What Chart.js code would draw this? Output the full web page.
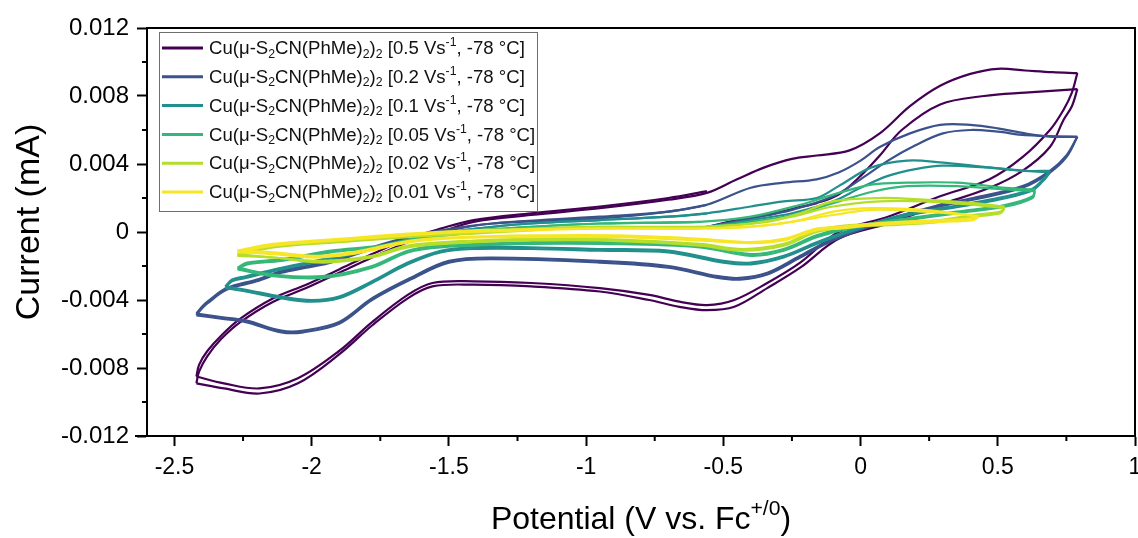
<!DOCTYPE html>
<html><head><meta charset="utf-8">
<script src="https://cdn.jsdelivr.net/npm/chart.js@4.4.1/dist/chart.umd.min.js"></script>
<style>html,body{margin:0;padding:0;background:#fff;}#wrap{width:1138px;height:538px;}</style>
</head><body><div id="wrap"><canvas id="c" width="1138" height="538"></canvas></div>
<script>
// ---------- tick labels ----------
const xTickValues = [-2.5, -2, -1.5, -1, -0.5, 0, 0.5, 1];
const xMinorTicks = [-2.25, -1.75, -1.25, -0.75, -0.25, 0.25, 0.75];
const yTickValues = [-0.012, -0.008, -0.004, 0, 0.004, 0.008, 0.012];
const yMinorTicks = [-0.010, -0.006, -0.002, 0.002, 0.006, 0.010];
const scanRates = ['0.5', '0.2', '0.1', '0.05', '0.02', '0.01'];
const seriesColors = ['#440154', '#3b528b', '#21908d', '#35b779', '#b5de2b', '#f6e626'];

// ---------- 0.5 V/s ----------
const E_start_050 = [-0.56, -0.45, -0.34, -0.24, -0.16, -0.08, 0.0, 0.07, 0.15, 0.29, 0.45, 0.6, 0.79];
const I_start_050 = [0.0003, 0.0007, 0.0010, 0.0014, 0.0017, 0.0022, 0.0033, 0.0045, 0.0060, 0.0075, 0.0080, 0.0082, 0.0084];
const E_cath_050 = [0.79, 0.77, 0.74, 0.69, 0.59, 0.47, 0.29, 0.1, -0.08, -0.22, -0.34, -0.46, -0.56, -0.66, -0.77, -0.95, -1.2, -1.41, -1.56, -1.65, -1.78, -1.9, -2.05, -2.19, -2.32, -2.42];
const I_cath1_050 = [0.0084, 0.0074, 0.0066, 0.0050, 0.0036, 0.0026, 0.0016, 0.0005, -0.0004, -0.0021, -0.0033, -0.0044, -0.0046, -0.0044, -0.0040, -0.0035, -0.0032, -0.0031, -0.0032, -0.0039, -0.0055, -0.0072, -0.0089, -0.0095, -0.0092, -0.0089];
const I_cath2_050 = [0.00935, 0.0082, 0.0072, 0.0060, 0.0044, 0.0031, 0.0021, 0.0009, 0.0000, -0.0018, -0.0030, -0.0040, -0.0043, -0.0041, -0.0037, -0.0033, -0.0030, -0.0029, -0.0030, -0.0037, -0.0053, -0.0070, -0.0086, -0.0092, -0.0089, -0.0085];
const E_anod_050 = [-2.42, -2.41, -2.38, -2.33, -2.26, -2.14, -2.02, -1.9, -1.78, -1.65, -1.53, -1.41, -1.2, -0.95, -0.7, -0.56, -0.45, -0.35, -0.25, -0.16, -0.04, 0.07, 0.18, 0.29, 0.4, 0.5, 0.6, 0.7, 0.79];
const I_anod1_050 = [-0.0089, -0.0082, -0.0073, -0.0063, -0.0053, -0.0041, -0.0033, -0.0024, -0.0015, -0.0006, 0.0000, 0.0006, 0.0010, 0.0014, 0.0019, 0.0023, 0.0031, 0.0038, 0.0043, 0.0045, 0.0048, 0.0058, 0.0074, 0.0086, 0.0093, 0.0096, 0.0095, 0.0094, 0.00935];
const I_anod2_050 = [-0.0085, -0.0078, -0.0070, -0.0061, -0.0051, -0.0039, -0.0031, -0.0022, -0.0013, -0.0004, 0.0002, 0.0007, 0.0011, 0.0015, 0.0020, 0.0024];

// ---------- 0.2 V/s ----------
const E_start_020 = [-0.56, -0.4, -0.25, -0.1, 0.0, 0.1, 0.2, 0.3, 0.4, 0.5, 0.6, 0.79];
const I_start_020 = [0.0003, 0.0008, 0.0013, 0.0021, 0.0031, 0.0042, 0.0051, 0.0058, 0.0060, 0.0059, 0.0057, 0.0056];
const E_cath_020 = [0.79, 0.75, 0.69, 0.59, 0.41, 0.29, 0.07, -0.1, -0.22, -0.34, -0.44, -0.52, -0.7, -0.95, -1.34, -1.5, -1.64, -1.78, -1.9, -2.03, -2.11, -2.24, -2.33, -2.42];
const I_cath1_020 = [0.0056, 0.0044, 0.0035, 0.0026, 0.0019, 0.0015, 0.0005, -0.0005, -0.0015, -0.0025, -0.0028, -0.0027, -0.0021, -0.0018, -0.0016, -0.0018, -0.0028, -0.0040, -0.0054, -0.0059, -0.0059, -0.0053, -0.0051, -0.0049];
const I_cath2_020 = [0.0056, 0.0045, 0.0036, 0.0027, 0.0020, 0.0016, 0.0006, -0.0004, -0.0014, -0.0024, -0.0027, -0.0026, -0.0020, -0.0017, -0.0015, -0.0017, -0.0027, -0.0039, -0.0053, -0.0058, -0.0058, -0.0052, -0.0050, -0.0048];
const E_anod_020 = [-2.42, -2.40, -2.38, -2.31, -2.2, -2.11, -2.02, -1.93, -1.78, -1.65, -1.53, -1.34, -0.95, -0.7, -0.56, -0.4, -0.28, -0.16, -0.08, 0.0, 0.07, 0.18, 0.29, 0.4, 0.5, 0.6, 0.7, 0.79];
const I_anod1_020 = [-0.0049, -0.0045, -0.0042, -0.0034, -0.0029, -0.0024, -0.0021, -0.0018, -0.0010, -0.0004, 0.0000, 0.0005, 0.0008, 0.0012, 0.0016, 0.0026, 0.0029, 0.0031, 0.0035, 0.0042, 0.0050, 0.0058, 0.0063, 0.0063, 0.0061, 0.0058, 0.0056, 0.0056];
const I_anod2_020 = [-0.0048, -0.0044, -0.0041, -0.0033, -0.0028, -0.0023, -0.0020, -0.0017, -0.0009, -0.0003, 0.0001, 0.0005, 0.0009, 0.0012, 0.0016];

// ---------- 0.1 V/s ----------
const E_start_010 = [-0.56, -0.4, -0.25, -0.1, 0.0, 0.1, 0.2, 0.3, 0.45, 0.6, 0.69];
const I_start_010 = [0.0003, 0.0007, 0.0011, 0.0018, 0.0026, 0.0033, 0.0037, 0.0039, 0.0038, 0.0036, 0.0035];
const E_cath_010 = [0.69, 0.665, 0.62, 0.47, 0.29, 0.15, 0.04, -0.04, -0.16, -0.28, -0.4, -0.5, -0.7, -0.95, -1.2, -1.41, -1.53, -1.65, -1.78, -1.9, -2.0, -2.11, -2.24, -2.315];
const I_cath1_010 = [0.0035, 0.0030, 0.0024, 0.0018, 0.0013, 0.0009, 0.0004, 0.0000, -0.0007, -0.0015, -0.0019, -0.0018, -0.0012, -0.0011, -0.0010, -0.0010, -0.0012, -0.0019, -0.0030, -0.0039, -0.0041, -0.0039, -0.0035, -0.0033];
const I_cath2_010 = [0.0036, 0.0031, 0.0025, 0.0019, 0.0014, 0.0010, 0.0005, 0.0001, -0.0006, -0.0014, -0.0018, -0.0017, -0.0011, -0.0010, -0.0009, -0.0009, -0.0011, -0.0018, -0.0029, -0.0038, -0.0040, -0.0038, -0.0034, -0.0032];
const E_anod_010 = [-2.315, -2.29, -2.24, -2.11, -1.93, -1.75, -1.6, -1.4, -1.2, -0.95, -0.7, -0.56, -0.4, -0.28, -0.16, -0.08, 0.04, 0.17, 0.29, 0.47, 0.6, 0.69];
const I_anod1_010 = [-0.0033, -0.0029, -0.0027, -0.0022, -0.0016, -0.0009, -0.0003, 0.0002, 0.0005, 0.0007, 0.0009, 0.0011, 0.0015, 0.0018, 0.0020, 0.0027, 0.0038, 0.0042, 0.0041, 0.0038, 0.0036, 0.0036];
const I_anod2_010 = [-0.0032, -0.0028, -0.0026, -0.0021, -0.0015, -0.0008, -0.0003, 0.0002, 0.0005, 0.0007, 0.0009, 0.0011];

// ---------- 0.05 V/s ----------
const E_start_005 = [-0.56, -0.4, -0.25, -0.1, 0.05, 0.17, 0.35, 0.53, 0.635];
const I_start_005 = [0.0003, 0.0006, 0.0010, 0.0017, 0.0024, 0.0027, 0.0027, 0.0025, 0.0024];
const E_cath_005 = [0.635, 0.627, 0.53, 0.35, 0.17, -0.04, -0.16, -0.28, -0.4, -0.586, -0.95, -1.2, -1.53, -1.65, -1.78, -1.96, -2.14, -2.27];
const I_cath1_005 = [0.0024, 0.0020, 0.0015, 0.0011, 0.0007, 0.0002, -0.0003, -0.0011, -0.0014, -0.0009, -0.0007, -0.0007, -0.0009, -0.0012, -0.0021, -0.0027, -0.0026, -0.0022];
const I_cath2_005 = [0.0025, 0.0021, 0.0016, 0.0012, 0.0008, 0.0003, -0.0002, -0.0010, -0.0013, -0.0008, -0.0006, -0.0006, -0.0008, -0.0011, -0.0020, -0.0026, -0.0025, -0.0021];
const E_anod_005 = [-2.27, -2.235, -2.11, -1.93, -1.75, -1.6, -1.4, -1.2, -0.95, -0.586, -0.4, -0.22, -0.1, 0.045, 0.17, 0.35, 0.53, 0.635];
const I_anod1_005 = [-0.0022, -0.0019, -0.0017, -0.0012, -0.0009, -0.0004, 0.0000, 0.0003, 0.0005, 0.0006, 0.0009, 0.0016, 0.0022, 0.0028, 0.0029, 0.0029, 0.0026, 0.0025];
const I_anod2_005 = [-0.0021, -0.0018, -0.0016, -0.0011, -0.0008, -0.0003, 0.0001, 0.0003, 0.0005, 0.0006];

// ---------- 0.02 V/s ----------
const E_start_002 = [-0.56, -0.4, -0.25, -0.1, 0.07, 0.23, 0.41, 0.525];
const I_start_002 = [0.0003, 0.0005, 0.0009, 0.0015, 0.0018, 0.0018, 0.0016, 0.0014];
const E_cath_002 = [0.525, 0.51, 0.41, 0.29, 0.1, -0.04, -0.16, -0.28, -0.43, -0.586, -0.95, -1.2, -1.41, -1.65, -1.78, -1.96, -2.14, -2.27];
const I_cath1_002 = [0.0014, 0.0011, 0.0009, 0.0006, 0.0004, 0.0003, 0.0000, -0.0008, -0.0011, -0.0008, -0.0005, -0.0005, -0.0006, -0.0009, -0.0015, -0.0018, -0.0015, -0.0014];
const I_cath2_002 = [0.0015, 0.0012, 0.0010, 0.0007, 0.0005, 0.0004, 0.0001, -0.0007, -0.0010, -0.0007, -0.0004, -0.0004, -0.0005, -0.0008, -0.0014, -0.0017, -0.0015, -0.0013];
const E_anod_002 = [-2.27, -2.14, -1.9, -1.65, -1.41, -1.2, -0.95, -0.586, -0.34, -0.22, -0.1, 0.07, 0.23, 0.41, 0.525];
const I_anod1_002 = [-0.0014, -0.0009, -0.0006, -0.0003, -0.0001, 0.0001, 0.0003, 0.0003, 0.0006, 0.0011, 0.0018, 0.0020, 0.0019, 0.0017, 0.0015];
const I_anod2_002 = [-0.0013, -0.0008, -0.0005, -0.0002, 0.0000, 0.0002, 0.0003, 0.0003];

// ---------- 0.01 V/s ----------
const E_start_001 = [-0.56, -0.4, -0.25, -0.1, 0.045, 0.23, 0.39, 0.43];
const I_start_001 = [0.0002, 0.0003, 0.0006, 0.0010, 0.0013, 0.0012, 0.0010, 0.0009];
const E_cath_001 = [0.43, 0.41, 0.29, 0.045, -0.076, -0.16, -0.28, -0.4, -0.586, -0.88, -1.2, -1.46, -1.64, -1.82, -1.9, -2.0, -2.14, -2.27];
const I_cath1_001 = [0.0009, 0.0007, 0.0006, 0.0004, 0.0002, 0.0001, -0.0005, -0.00065, -0.0005, -0.0003, -0.0003, -0.00035, -0.0006, -0.0012, -0.0014, -0.0015, -0.0013, -0.0012];
const I_cath2_001 = [0.0009, 0.0008, 0.0007, 0.0005, 0.0003, 0.0002, -0.0004, -0.0006, -0.0004, -0.0002, -0.0002, -0.0003, -0.0005, -0.0011, -0.0013, -0.0014, -0.0012, -0.0011];
const E_anod_001 = [-2.27, -2.14, -1.9, -1.65, -1.41, -0.95, -0.586, -0.34, -0.22, -0.1, 0.045, 0.23, 0.39, 0.43];
const I_anod1_001 = [-0.0012, -0.0008, -0.0005, -0.0002, 0.0000, 0.0002, 0.0002, 0.0004, 0.0007, 0.0012, 0.0014, 0.0013, 0.0010, 0.0009];
const I_anod2_001 = [-0.0011, -0.0007, -0.0004, -0.0001, 0.0001, 0.0002, 0.0002];

const seriesList = [
  {startE:E_start_050, startI:I_start_050, cathE:E_cath_050, cathI1:I_cath1_050, cathI2:I_cath2_050, anodE:E_anod_050, anodI1:I_anod1_050, anodI2:I_anod2_050},
  {startE:E_start_020, startI:I_start_020, cathE:E_cath_020, cathI1:I_cath1_020, cathI2:I_cath2_020, anodE:E_anod_020, anodI1:I_anod1_020, anodI2:I_anod2_020},
  {startE:E_start_010, startI:I_start_010, cathE:E_cath_010, cathI1:I_cath1_010, cathI2:I_cath2_010, anodE:E_anod_010, anodI1:I_anod1_010, anodI2:I_anod2_010},
  {startE:E_start_005, startI:I_start_005, cathE:E_cath_005, cathI1:I_cath1_005, cathI2:I_cath2_005, anodE:E_anod_005, anodI1:I_anod1_005, anodI2:I_anod2_005},
  {startE:E_start_002, startI:I_start_002, cathE:E_cath_002, cathI1:I_cath1_002, cathI2:I_cath2_002, anodE:E_anod_002, anodI1:I_anod1_002, anodI2:I_anod2_002},
  {startE:E_start_001, startI:I_start_001, cathE:E_cath_001, cathI1:I_cath1_001, cathI2:I_cath2_001, anodE:E_anod_001, anodI1:I_anod1_001, anodI2:I_anod2_001}
];

const FONT = "'Liberation Sans', Arial, Helvetica, sans-serif";
function pts(E, I) { return I.map((v, i) => ({x: E[i], y: v})); }

const datasets = [];
seriesList.forEach((s, k) => {
  const segs = [pts(s.startE, s.startI), pts(s.cathE, s.cathI1), pts(s.anodE, s.anodI1), pts(s.cathE, s.cathI2), pts(s.anodE, s.anodI2)];
  segs.forEach(d => datasets.push({
    label: scanRates[k], data: d, borderColor: seriesColors[k], borderWidth: 2.2,
    showLine: true, pointRadius: 0, pointHoverRadius: 0, tension: 0.35, fill: false,
    order: 6 - k
  }));
});

function drawRich(ctx, parts, x, y, size) {
  let cx = x;
  parts.forEach(([t, m]) => {
    const fs = m === 0 ? size : size * 0.66;
    ctx.font = fs + 'px ' + FONT;
    const dy = m === 1 ? size * 0.28 : (m === 2 ? -size * 0.33 : 0);
    ctx.fillText(t, cx, y + dy);
    cx += ctx.measureText(t).width;
  });
  return cx - x;
}
function richWidth(ctx, parts, size) {
  let w = 0;
  parts.forEach(([t, m]) => {
    ctx.font = (m === 0 ? size : size * 0.66) + 'px ' + FONT;
    w += ctx.measureText(t).width;
  });
  return w;
}
function legendParts(rate) {
  return [['Cu(\u03bc-S', 0], ['2', 1], ['CN(PhMe)', 0], ['2', 1], [')', 0], ['2', 1], [' [' + rate + ' Vs', 0], ['-1', 2], [', -78 \u00b0C]', 0]];
}

const decorPlugin = {
  id: 'decor',
  afterDraw(chart) {
    const ctx = chart.ctx, a = chart.chartArea;
    const xs = chart.scales.x, ys = chart.scales.y;
    ctx.save();
    ctx.strokeStyle = '#000'; ctx.lineWidth = 2;
    ctx.beginPath();
    ctx.moveTo(a.left - 1, a.top); ctx.lineTo(a.right, a.top); ctx.lineTo(a.right, a.bottom + 1);
    ctx.moveTo(a.left - 12, a.bottom); ctx.lineTo(a.left, a.bottom);
    ctx.stroke();
    ctx.beginPath();
    yMinorTicks.forEach(v => { const p = ys.getPixelForValue(v); ctx.moveTo(a.left - 5, p); ctx.lineTo(a.left, p); });
    xMinorTicks.forEach(v => { const p = xs.getPixelForValue(v); ctx.moveTo(p, a.bottom); ctx.lineTo(p, a.bottom + 5); });
    ctx.stroke();
    // legend
    const lx = a.left + 12, ly = a.top + 4, lw = 378, lh = 179;
    ctx.fillStyle = '#fff'; ctx.fillRect(lx, ly, lw, lh);
    ctx.strokeStyle = '#6e6e6e'; ctx.lineWidth = 1;
    ctx.strokeRect(lx + 0.5, ly + 0.5, lw, lh);
    const base = 18;
    const natural = richWidth(ctx, legendParts('0.5'), base);
    const fsz = base * 316 / natural;
    ctx.textBaseline = 'middle'; ctx.textAlign = 'left';
    scanRates.forEach((r, i) => {
      const cy = ly + 16 + i * 28.8;
      ctx.strokeStyle = seriesColors[i]; ctx.lineWidth = 3;
      ctx.beginPath(); ctx.moveTo(lx + 3, cy); ctx.lineTo(lx + 44, cy); ctx.stroke();
      ctx.fillStyle = '#111';
      drawRich(ctx, legendParts(r), lx + 50, cy + 1, fsz);
    });
    // axis titles
    ctx.fillStyle = '#000';
    ctx.save();
    ctx.translate(30, 222);
    ctx.rotate(-Math.PI / 2);
    ctx.textAlign = 'center'; ctx.textBaseline = 'middle';
    ctx.font = '34px ' + FONT;
    ctx.fillText('Current (mA)', 0, 0);
    ctx.restore();
    const xt = [['Potential (V vs. Fc', 0], ['+/0', 2], [')', 0]];
    const tw = richWidth(ctx, xt, 32);
    ctx.textAlign = 'left'; ctx.textBaseline = 'middle';
    drawRich(ctx, xt, (a.left + a.right) / 2 - tw / 2, 520, 32);
    ctx.restore();
  }
};

new Chart(document.getElementById('c'), {
  type: 'scatter',
  data: { datasets },
  options: {
    responsive: false, animation: false, devicePixelRatio: 1,
    layout: { padding: { top: 28, right: 3, left: 0, bottom: 0 } },
    plugins: { legend: { display: false }, tooltip: { enabled: false } },
    scales: {
      x: {
        type: 'linear', min: -2.6, max: 1.0,
        afterBuildTicks: sc => { sc.ticks = xTickValues.map(v => ({ value: v })); },
        afterFit: sc => { sc.height = 102; sc.paddingLeft = 0; sc.paddingRight = 0; },
        ticks: { callback: v => String(v), font: { family: FONT, size: 23 }, color: '#000', padding: 8, autoSkip: false, maxRotation: 0 },
        grid: { display: true, drawOnChartArea: false, drawTicks: true, tickLength: 10, tickWidth: 2, tickColor: '#000' },
        border: { display: true, color: '#000', width: 2 }
      },
      y: {
        type: 'linear', min: -0.012, max: 0.012,
        afterBuildTicks: sc => { sc.ticks = yTickValues.map(v => ({ value: v })); },
        afterFit: sc => { sc.width = 147; sc.paddingTop = 0; sc.paddingBottom = 0; },
        ticks: { callback: v => String(v), font: { family: FONT, size: 24 }, color: '#000', padding: 8, autoSkip: false },
        grid: { display: true, drawOnChartArea: false, drawTicks: true, tickLength: 10, tickWidth: 2, tickColor: '#000' },
        border: { display: true, color: '#000', width: 2 }
      }
    }
  },
  plugins: [decorPlugin]
});
</script>
</body></html>
